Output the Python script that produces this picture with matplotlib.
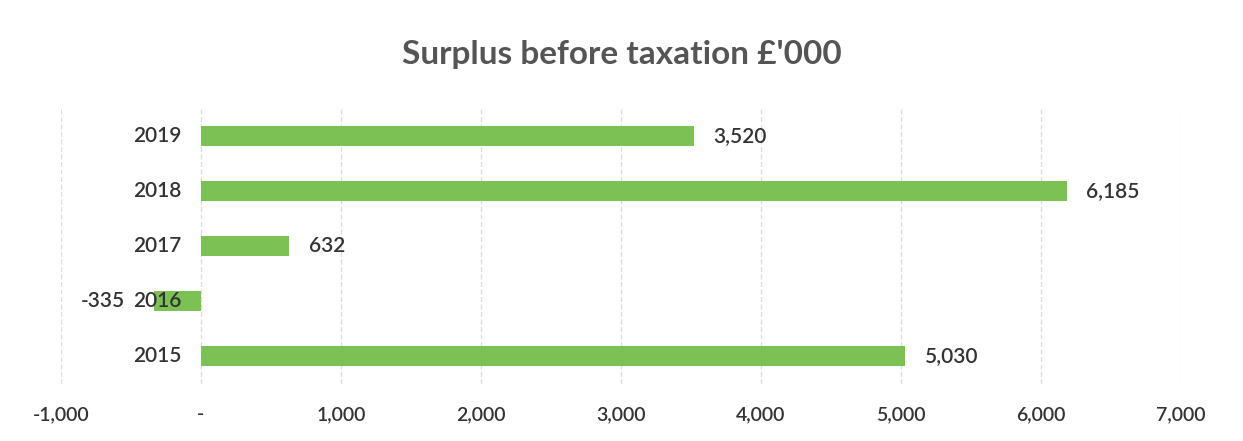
import matplotlib
matplotlib.use("Agg")
import matplotlib.pyplot as plt
from matplotlib.ticker import FuncFormatter

years = ["2015", "2016", "2017", "2018", "2019"]
surplus = [5030, -335, 632, 6185, 3520]

plt.rcParams['font.family'] = ['Lato', 'DejaVu Sans']
text_col = '#333333'
bar_col = '#7cc153'

fig = plt.figure(figsize=(12.43, 4.41), dpi=100)
ax = fig.add_axes([0.049, 0.13, 0.901, 0.624])

pos = list(range(len(years)))
bars = ax.barh(pos, surplus, height=0.37, color=bar_col, zorder=3)

ax.set_xlim(-1000, 7000)
ax.set_ylim(-0.5, len(years) - 0.5)
ax.set_xticks(range(-1000, 7001, 1000))
ax.xaxis.set_major_formatter(FuncFormatter(lambda v, p: "-" if v == 0 else f"{int(v):,}"))
ax.grid(axis='x', color='#dcdcdc', linewidth=0.9, linestyle=(0, (4, 2)), zorder=0)
ax.set_yticks([])
for s in ['top', 'right', 'bottom', 'left']:
    ax.spines[s].set_visible(False)
ax.tick_params(axis='x', length=0, pad=16, labelsize=14, labelcolor=text_col)
for lab in ax.get_xticklabels():
    lab.set_fontweight('semibold')

# year labels sit next to the zero line, drawn over the bars
for p, yr in zip(pos, years):
    ax.annotate(yr, (0, p), xytext=(-14, 0), textcoords='offset points',
                ha='right', va='center', fontsize=15, fontweight='semibold',
                color=text_col, zorder=5)

for b, v in zip(bars, surplus):
    y = b.get_y() + b.get_height() / 2
    off = 14 if v >= 0 else -21
    ax.annotate(f"{v:,}", (v, y), xytext=(off, 0), textcoords='offset points',
                ha='left' if v >= 0 else 'right', va='center',
                fontsize=15, fontweight='semibold', color=text_col, zorder=5)

fig.suptitle("Surplus before taxation £'000", x=0.5, y=0.91, fontsize=24,
             fontweight='bold', color='#555555')

fig.savefig("out.png", dpi=100)
